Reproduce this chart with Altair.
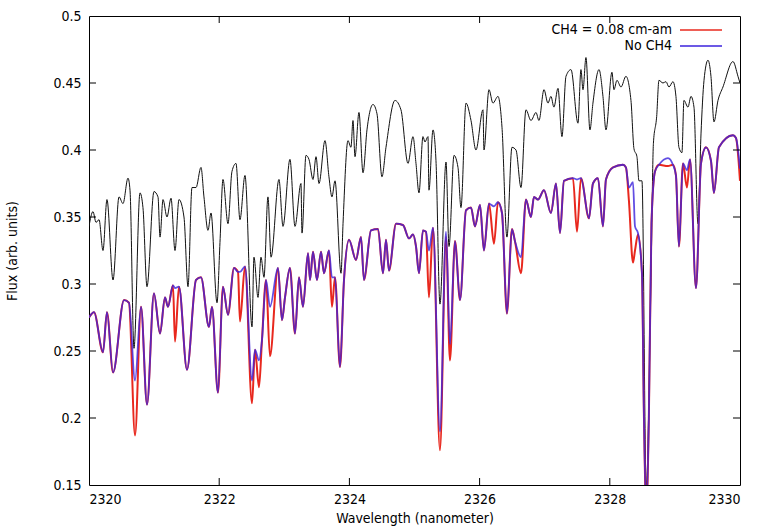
import altair as alt
import pandas as pd

# ---- observed spectrum (black) ----
obs_wl = [2320.000, 2320.061, 2320.108, 2320.154, 2320.215, 2320.276, 2320.369, 2320.461, 2320.522, 2320.599,
          2320.630, 2320.691, 2320.783, 2320.829, 2320.891, 2320.998, 2321.060, 2321.091, 2321.137, 2321.198,
          2321.260, 2321.321, 2321.382, 2321.459, 2321.521, 2321.582, 2321.644, 2321.720, 2321.766, 2321.828,
          2321.874, 2321.966, 2322.012, 2322.058, 2322.135, 2322.196, 2322.258, 2322.319, 2322.396, 2322.504,
          2322.534, 2322.596, 2322.642, 2322.688, 2322.749, 2322.796, 2322.918, 2322.980, 2323.087, 2323.164,
          2323.256, 2323.272, 2323.333, 2323.379, 2323.441, 2323.487, 2323.533, 2323.625, 2323.686, 2323.732,
          2323.779, 2323.871, 2323.902, 2323.978, 2324.024, 2324.055, 2324.086, 2324.147, 2324.209, 2324.270,
          2324.362, 2324.424, 2324.500, 2324.562, 2324.700, 2324.792, 2324.900, 2324.977, 2325.023, 2325.069,
          2325.130, 2325.161, 2325.207, 2325.222, 2325.284, 2325.330, 2325.391, 2325.484, 2325.530, 2325.607,
          2325.668, 2325.714, 2325.791, 2325.868, 2325.944, 2326.052, 2326.067, 2326.144, 2326.205, 2326.282,
          2326.344, 2326.420, 2326.497, 2326.559, 2326.636, 2326.712, 2326.789, 2326.866, 2326.912, 2326.989,
          2327.050, 2327.096, 2327.142, 2327.204, 2327.265, 2327.327, 2327.404, 2327.511, 2327.557, 2327.588,
          2327.634, 2327.695, 2327.741, 2327.834, 2327.895, 2327.941, 2328.033, 2328.064, 2328.110, 2328.172,
          2328.248, 2328.325, 2328.371, 2328.417, 2328.448, 2328.494, 2328.560, 2328.632, 2328.670, 2328.720,
          2328.755, 2328.817, 2328.863, 2328.909, 2328.970, 2329.016, 2329.062, 2329.108, 2329.139, 2329.201,
          2329.247, 2329.293, 2329.354, 2329.401, 2329.447, 2329.508, 2329.554, 2329.600, 2329.662, 2329.738,
          2329.892, 2329.969, 2330.000]
obs_flux = [0.343, 0.354, 0.346, 0.348, 0.325, 0.363, 0.303, 0.365, 0.360, 0.379,
            0.370, 0.252, 0.368, 0.357, 0.298, 0.369, 0.365, 0.335, 0.363, 0.350,
            0.364, 0.325, 0.363, 0.350, 0.298, 0.372, 0.372, 0.387, 0.365, 0.340,
            0.353, 0.286, 0.331, 0.378, 0.345, 0.384, 0.390, 0.348, 0.381, 0.268,
            0.320, 0.290, 0.320, 0.305, 0.365, 0.320, 0.378, 0.343, 0.393, 0.343,
            0.375, 0.338, 0.396, 0.393, 0.378, 0.395, 0.375, 0.407, 0.380, 0.365,
            0.377, 0.308, 0.345, 0.407, 0.402, 0.422, 0.395, 0.428, 0.383, 0.415,
            0.434, 0.427, 0.380, 0.402, 0.437, 0.430, 0.390, 0.410, 0.390, 0.368,
            0.410, 0.406, 0.410, 0.370, 0.415, 0.392, 0.285, 0.391, 0.328, 0.396,
            0.387, 0.357, 0.435, 0.422, 0.400, 0.430, 0.400, 0.445, 0.435, 0.440,
            0.417, 0.335, 0.402, 0.400, 0.372, 0.430, 0.422, 0.428, 0.422, 0.445,
            0.435, 0.440, 0.432, 0.446, 0.410, 0.455, 0.460, 0.420, 0.460, 0.445,
            0.469, 0.415, 0.435, 0.460, 0.440, 0.415, 0.458, 0.445, 0.452, 0.447,
            0.455, 0.437, 0.401, 0.395, 0.377, 0.377, 0.148, 0.302, 0.405, 0.425,
            0.452, 0.450, 0.451, 0.447, 0.451, 0.440, 0.402, 0.398, 0.437, 0.432,
            0.440, 0.432, 0.345, 0.412, 0.452, 0.467, 0.455, 0.421, 0.437, 0.447,
            0.466, 0.455, 0.450]

# ---- model spectra ----
mod_wl = [2320.000, 2320.077, 2320.215, 2320.276, 2320.369, 2320.538, 2320.614, 2320.707, 2320.799, 2320.891,
          2320.998, 2321.091, 2321.167, 2321.213, 2321.290, 2321.321, 2321.382, 2321.505, 2321.644, 2321.720,
          2321.843, 2321.889, 2321.981, 2322.058, 2322.135, 2322.227, 2322.289, 2322.319, 2322.396, 2322.504,
          2322.550, 2322.611, 2322.657, 2322.719, 2322.780, 2322.903, 2322.964, 2323.011, 2323.087, 2323.164,
          2323.226, 2323.287, 2323.364, 2323.395, 2323.441, 2323.502, 2323.564, 2323.610, 2323.686, 2323.732,
          2323.779, 2323.855, 2323.917, 2323.994, 2324.101, 2324.178, 2324.224, 2324.332, 2324.439, 2324.516,
          2324.562, 2324.608, 2324.716, 2324.823, 2324.916, 2324.977, 2325.023, 2325.069, 2325.130, 2325.176,
          2325.222, 2325.284, 2325.391, 2325.484, 2325.545, 2325.622, 2325.699, 2325.791, 2325.868, 2325.929,
          2326.006, 2326.067, 2326.144, 2326.221, 2326.282, 2326.344, 2326.420, 2326.497, 2326.543, 2326.636,
          2326.712, 2326.789, 2326.835, 2326.897, 2326.989, 2327.096, 2327.173, 2327.235, 2327.296, 2327.434,
          2327.496, 2327.557, 2327.680, 2327.741, 2327.818, 2327.895, 2327.941, 2328.049, 2328.202, 2328.248,
          2328.294, 2328.356, 2328.387, 2328.433, 2328.494, 2328.525, 2328.560, 2328.600, 2328.640, 2328.694,
          2328.755, 2328.894, 2328.970, 2329.016, 2329.062, 2329.124, 2329.185, 2329.232, 2329.324, 2329.401,
          2329.478, 2329.554, 2329.600, 2329.677, 2329.892, 2329.938, 2330.000]
flux_no_ch4 = [0.275, 0.279, 0.249, 0.279, 0.234, 0.288, 0.286, 0.228, 0.283, 0.210,
               0.293, 0.263, 0.290, 0.283, 0.299, 0.297, 0.298, 0.236, 0.303, 0.305,
               0.268, 0.283, 0.219, 0.298, 0.277, 0.312, 0.309, 0.309, 0.313, 0.228,
               0.251, 0.243, 0.258, 0.303, 0.283, 0.312, 0.273, 0.290, 0.312, 0.263,
               0.305, 0.283, 0.323, 0.303, 0.324, 0.303, 0.324, 0.308, 0.325, 0.305,
               0.305, 0.238, 0.303, 0.333, 0.318, 0.335, 0.303, 0.340, 0.341, 0.308,
               0.333, 0.310, 0.345, 0.344, 0.334, 0.337, 0.328, 0.308, 0.340, 0.339,
               0.325, 0.342, 0.190, 0.339, 0.255, 0.332, 0.288, 0.355, 0.357, 0.343,
               0.359, 0.325, 0.360, 0.358, 0.361, 0.353, 0.278, 0.341, 0.332, 0.320,
               0.363, 0.350, 0.365, 0.363, 0.370, 0.353, 0.375, 0.338, 0.377, 0.379,
               0.378, 0.379, 0.349, 0.375, 0.379, 0.343, 0.378, 0.387, 0.389, 0.387,
               0.372, 0.376, 0.343, 0.338, 0.308, 0.200, 0.130, 0.200, 0.345, 0.384,
               0.389, 0.394, 0.389, 0.381, 0.328, 0.390, 0.385, 0.393, 0.297, 0.390,
               0.402, 0.392, 0.368, 0.402, 0.411, 0.409, 0.386]
flux_ch4 = [0.275, 0.279, 0.249, 0.279, 0.234, 0.288, 0.286, 0.187, 0.283, 0.210,
            0.293, 0.263, 0.290, 0.283, 0.299, 0.257, 0.298, 0.236, 0.303, 0.305,
            0.268, 0.283, 0.219, 0.298, 0.277, 0.312, 0.309, 0.272, 0.313, 0.211,
            0.251, 0.223, 0.258, 0.303, 0.246, 0.312, 0.273, 0.290, 0.312, 0.263,
            0.305, 0.283, 0.323, 0.303, 0.324, 0.303, 0.324, 0.308, 0.325, 0.283,
            0.305, 0.238, 0.303, 0.333, 0.318, 0.335, 0.303, 0.340, 0.341, 0.308,
            0.333, 0.310, 0.345, 0.344, 0.334, 0.337, 0.328, 0.308, 0.340, 0.339,
            0.290, 0.342, 0.176, 0.335, 0.243, 0.332, 0.288, 0.355, 0.357, 0.343,
            0.359, 0.325, 0.360, 0.330, 0.361, 0.353, 0.278, 0.341, 0.332, 0.308,
            0.363, 0.350, 0.365, 0.363, 0.370, 0.353, 0.375, 0.338, 0.377, 0.379,
            0.339, 0.379, 0.349, 0.375, 0.379, 0.343, 0.378, 0.387, 0.389, 0.387,
            0.362, 0.316, 0.325, 0.337, 0.308, 0.200, 0.130, 0.200, 0.345, 0.384,
            0.389, 0.388, 0.389, 0.381, 0.328, 0.390, 0.372, 0.393, 0.297, 0.390,
            0.402, 0.392, 0.368, 0.402, 0.411, 0.409, 0.377]

x_ticks = [2320, 2322, 2324, 2326, 2328, 2330]
y_ticks = [0.15, 0.2, 0.25, 0.3, 0.35, 0.4, 0.45, 0.5]
legend_labels = ["CH4 = 0.08 cm-am", "No CH4"]

FONT = "Liberation Sans Narrow, DejaVu Sans Condensed, Liberation Sans, Arial, sans-serif"
W, H = 651, 469
RED = "#e8281e"
BLUE = "#3b22dc"

obs = pd.DataFrame({"wl": obs_wl, "flux": obs_flux})
mod = pd.DataFrame({"wl": mod_wl, "no": flux_no_ch4, "ch4": flux_ch4})

xs = alt.Scale(domain=[2320, 2330], nice=False, zero=False)
ys = alt.Scale(domain=[0.15, 0.5], nice=False, zero=False)

xaxis = alt.Axis(values=x_ticks, format="d", grid=False, ticks=False, domain=False,
                 labelPadding=7, titlePadding=5, title="Wavelength (nanometer)")
yaxis = alt.Axis(values=y_ticks, format=".2~f", grid=False, ticks=False, domain=False,
                 labelPadding=8, title="Flux (arb. units)", titleX=-70, titleY=H / 2)

black = alt.Chart(obs).mark_line(color="#111111", strokeWidth=1, clip=True, interpolate="monotone").encode(
    x=alt.X("wl:Q", scale=xs, axis=xaxis),
    y=alt.Y("flux:Q", scale=ys, axis=yaxis),
)
red = alt.Chart(mod).mark_line(color=RED, strokeWidth=2, clip=True, interpolate="monotone").encode(
    x=alt.X("wl:Q", scale=xs, axis=xaxis),
    y=alt.Y("ch4:Q", scale=ys, axis=yaxis),
)
blue = alt.Chart(mod).mark_line(color=BLUE, strokeWidth=1.8, opacity=0.8, clip=True, interpolate="monotone").encode(
    x=alt.X("wl:Q", scale=xs, axis=xaxis),
    y=alt.Y("no:Q", scale=ys, axis=yaxis),
)

xt = pd.DataFrame({"wl": x_ticks[1:-1]})
yt = pd.DataFrame({"flux": y_ticks[1:-1]})
tick_bottom = alt.Chart(xt).mark_rule(color="black", strokeWidth=1).encode(
    x=alt.X("wl:Q", scale=xs, axis=xaxis), y=alt.value(H), y2=alt.value(H - 7))
tick_top = alt.Chart(xt).mark_rule(color="black", strokeWidth=1).encode(
    x=alt.X("wl:Q", scale=xs, axis=xaxis), y=alt.value(0), y2=alt.value(7))
tick_left = alt.Chart(yt).mark_rule(color="black", strokeWidth=1).encode(
    y=alt.Y("flux:Q", scale=ys, axis=yaxis), x=alt.value(0), x2=alt.value(7))
tick_right = alt.Chart(yt).mark_rule(color="black", strokeWidth=1).encode(
    y=alt.Y("flux:Q", scale=ys, axis=yaxis), x=alt.value(W), x2=alt.value(W - 7))

def legend_row(label, color, ypix):
    t = alt.Chart(pd.DataFrame({"t": [label]})).mark_text(
        align="right", baseline="middle", font=FONT, fontSize=14, color="black").encode(
        text="t:N", x=alt.value(583), y=alt.value(ypix))
    r = alt.Chart(pd.DataFrame({"t": [label]})).mark_rule(color=color, strokeWidth=1.6).encode(
        x=alt.value(591), x2=alt.value(633), y=alt.value(ypix))
    return t + r

leg = legend_row(legend_labels[0], RED, 14) + legend_row(legend_labels[1], BLUE, 30)

chart = alt.layer(black, red, blue, tick_bottom, tick_top, tick_left, tick_right, leg).properties(
    width=W, height=H,
    autosize=alt.AutoSizeParams(type="none"),
    padding={"left": 89, "top": 16, "right": 21, "bottom": 47},
).configure_view(stroke="black", strokeWidth=1).configure_axis(
    labelFont=FONT, titleFont=FONT, labelFontSize=14, titleFontSize=14,
    labelColor="black", titleColor="black", titleFontWeight="normal",
)

chart.save("out.html", embed_options={"renderer": "svg", "actions": False})
